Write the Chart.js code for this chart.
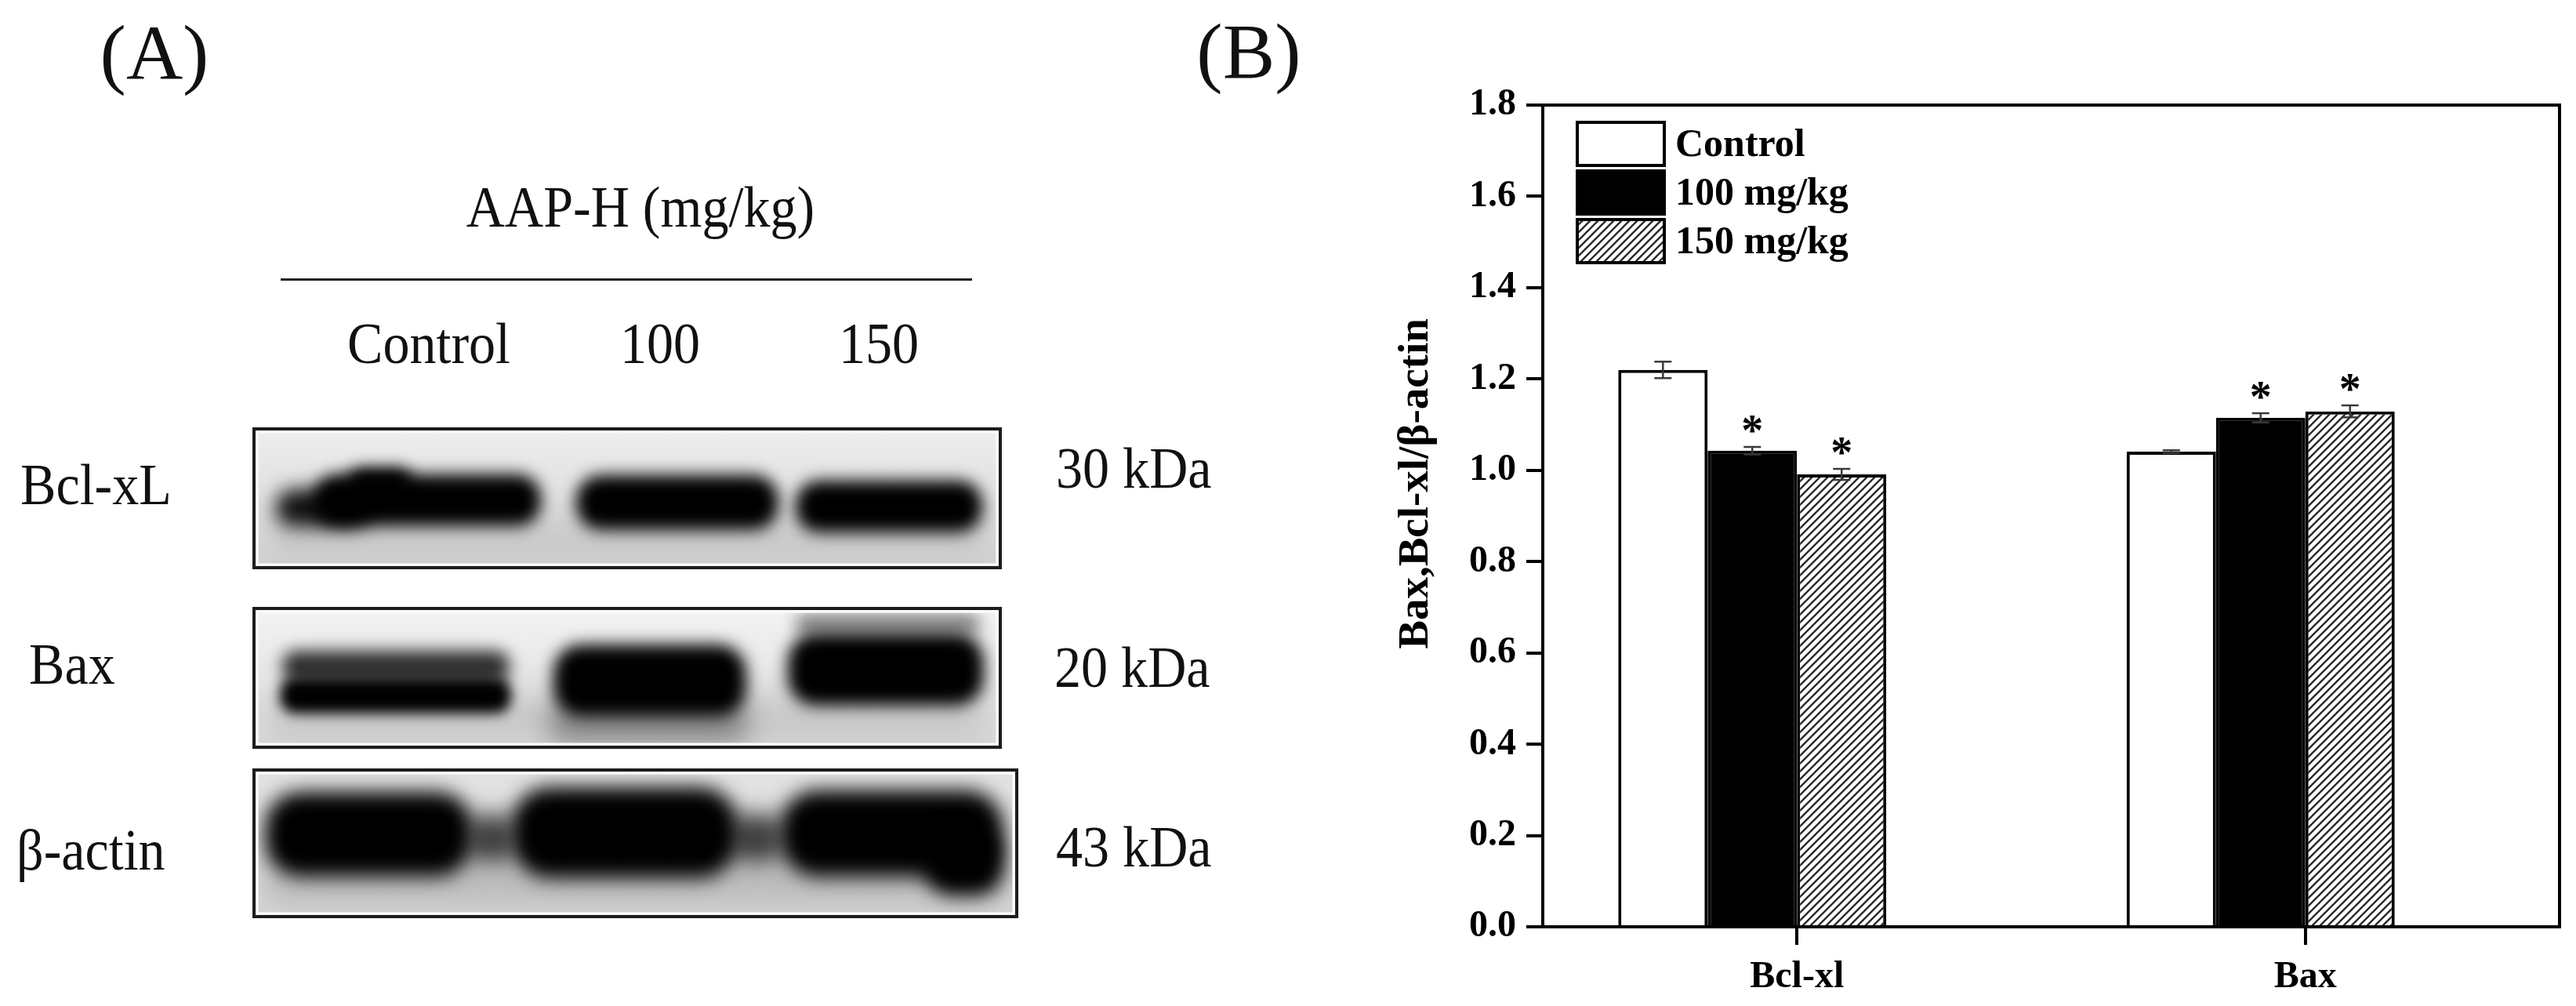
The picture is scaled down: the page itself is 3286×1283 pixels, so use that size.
<!DOCTYPE html>
<html lang="en">
  <head>
    <meta charset="UTF-8" />
    <title>Bax y Bcl-xL</title>
    <style>
      html, body { margin: 0; padding: 0; background: #fff; }
      body { width: 3286px; height: 1283px; position: relative; overflow: hidden; font-family: 'Liberation Serif', 'Times New Roman', serif; }
      .lbl { position: absolute; font-family: 'Liberation Serif', serif; font-size: 74px; line-height: 1; white-space: nowrap; color: #111; }
      .c { transform: translate(-50%, -50%) scaleX(0.92); }
      .l { transform: translate(0, -50%) scaleX(0.92); transform-origin: left center; }
      .panel { font-size: 100px; }
      .panel.c { transform: translate(-50%, -50%); }
      #blots { position: absolute; left: 0; top: 0; }
      #bar-chart { position: absolute; left: 1600px; top: 0; }
    </style>
  </head>

  <body>
    <script src="https://cdn.jsdelivr.net/npm/chart.js"></script>
    <canvas id="blots" width="1600" height="1283"></canvas>
    <canvas id="bar-chart" width="1686" height="1283"></canvas>

    <div class="lbl panel c" style="left:197px;top:68px">(A)</div>
    <div class="lbl panel c" style="left:1593px;top:66px">(B)</div>
    <div class="lbl c" style="left:817px;top:264px">AAP-H (mg/kg)</div>
    <div style="position:absolute;left:358px;top:355px;width:882px;height:3px;background:#222"></div>
    <div class="lbl c" style="left:547px;top:438px">Control</div>
    <div class="lbl c" style="left:842px;top:438px">100</div>
    <div class="lbl c" style="left:1121px;top:438px">150</div>
    <div class="lbl l" style="left:26px;top:618px">Bcl-xL</div>
    <div class="lbl l" style="left:37px;top:847px">Bax</div>
    <div class="lbl l" style="left:21px;top:1084px">β-actin</div>
    <div class="lbl l" style="left:1347px;top:597px">30 kDa</div>
    <div class="lbl l" style="left:1345px;top:851px">20 kDa</div>
    <div class="lbl l" style="left:1347px;top:1080px">43 kDa</div>

    <script>
      // datos del panel B
      const categories = ['Bcl-xl', 'Bax']
      const groups = ['Control', '100 mg/kg', '150 mg/kg']
      const controlMeans = [1.22, 1.041]
      const mg100Means = [1.043, 1.115]
      const mg150Means = [0.991, 1.129]
      const controlErr = [0.018, 0.003]
      const mg100Err = [0.008, 0.01]
      const mg150Err = [0.012, 0.013]
      const controlStar = [false, false]
      const mg100Star = [true, true]
      const mg150Star = [true, true]
      const yTicks = [0, 0.2, 0.4, 0.6, 0.8, 1.0, 1.2, 1.4, 1.6, 1.8]
      const yTitle = 'Bax,Bcl-xl/β-actin'

      const errs = [controlErr, mg100Err, mg150Err]
      const stars = [controlStar, mg100Star, mg150Star]
      const serif = "'Liberation Serif', 'Times New Roman', serif"

      // ---- panel A: membranas (imagen, solo decoracion) ----
      const g = document.getElementById('blots').getContext('2d')

      const membrane = (x, y, w, h, top, bottom, bands) => {
        const grad = g.createLinearGradient(0, y, 0, y + h)
        grad.addColorStop(0, top)
        grad.addColorStop(1, bottom)
        g.fillStyle = grad
        g.fillRect(x, y, w, h)
        g.save()
        g.beginPath()
        g.rect(x + 5, y + 5, w - 10, h - 10)
        g.clip()
        bands.forEach((b) => {
          g.save()
          g.filter = 'blur(' + b[5] + 'px)'
          g.fillStyle = b[6]
          g.beginPath()
          g.roundRect(b[0], b[1], b[2], b[3], b[4])
          g.fill()
          g.restore()
        })
        g.restore()
        g.strokeStyle = '#fff'
        g.lineWidth = 3
        g.strokeRect(x + 4, y + 4, w - 8, h - 8)
        g.strokeStyle = '#1c1c1c'
        g.lineWidth = 4
        g.strokeRect(x, y, w, h)
      }

      membrane(324, 547, 952, 177, '#eeeeee', '#d2d2d2', [
        [340, 662, 920, 45, 20, 20, 'rgba(0,0,0,0.08)'],
        [352, 624, 120, 48, 22, 12, '#111'],
        [445, 597, 80, 34, 16, 10, '#000'],
        [400, 605, 290, 66, 30, 10, '#000'],
        [735, 606, 258, 70, 32, 10, '#000'],
        [1015, 613, 238, 66, 30, 10, '#000'],
      ])
      membrane(324, 776, 952, 177, '#f3f3f3', '#d8d8d8', [
        [340, 885, 920, 55, 20, 20, 'rgba(0,0,0,0.1)'],
        [360, 830, 290, 40, 18, 10, 'rgba(0,0,0,0.8)'],
        [357, 864, 295, 46, 20, 8, '#000'],
        [700, 898, 255, 50, 20, 16, 'rgba(0,0,0,0.32)'],
        [706, 822, 246, 92, 36, 10, '#000'],
        [1015, 783, 235, 26, 12, 10, 'rgba(0,0,0,0.45)'],
        [1005, 808, 250, 92, 36, 10, '#000'],
      ])
      membrane(324, 982, 973, 187, '#e2e2e2', '#d6d6d6', [
        [335, 1095, 950, 55, 20, 20, 'rgba(0,0,0,0.15)'],
        [596, 1038, 62, 62, 25, 14, 'rgba(0,0,0,0.7)'],
        [932, 1038, 68, 62, 25, 14, 'rgba(0,0,0,0.7)'],
        [338, 1010, 265, 108, 46, 12, '#000'],
        [652, 1004, 290, 116, 50, 12, '#000'],
        [995, 1008, 285, 110, 48, 12, '#000'],
        [1180, 1058, 100, 84, 35, 12, '#000'],
      ])

      // ---- panel B ----
      const hatch = () => {
        const c = document.createElement('canvas')
        c.width = 10
        c.height = 10
        const h = c.getContext('2d')
        h.fillStyle = '#fff'
        h.fillRect(0, 0, 10, 10)
        h.strokeStyle = '#2a2a2a'
        h.lineWidth = 2.4
        h.beginPath()
        h.moveTo(-1, 11); h.lineTo(11, -1)
        h.moveTo(-6, 6); h.lineTo(6, -6)
        h.moveTo(4, 16); h.lineTo(16, 4)
        h.stroke()
        return h.createPattern(c, 'repeat')
      }
      const fills = ['#fff', '#000', hatch()]

      const decor = {
        id: 'decor',
        afterDatasetsDraw(chart) {
          const { ctx, chartArea: a, scales: { y } } = chart
          ctx.save()
          // marco superior y derecho
          ctx.strokeStyle = '#000'
          ctx.lineWidth = 4
          ctx.beginPath()
          ctx.moveTo(a.left - 2, a.top)
          ctx.lineTo(a.right, a.top)
          ctx.lineTo(a.right, a.bottom + 2)
          ctx.stroke()

          // barras de error y asteriscos
          errs.forEach((e, i) => {
            const meta = chart.getDatasetMeta(i)
            meta.data.forEach((bar, j) => {
              const v = chart.data.datasets[i].data[j]
              const top = y.getPixelForValue(v + e[j])
              const bot = y.getPixelForValue(v - e[j])
              ctx.strokeStyle = '#3a3a3a'
              ctx.lineWidth = 2.5
              ctx.beginPath()
              ctx.moveTo(bar.x, top); ctx.lineTo(bar.x, bot)
              ctx.moveTo(bar.x - 11, top); ctx.lineTo(bar.x + 11, top)
              ctx.moveTo(bar.x - 11, bot); ctx.lineTo(bar.x + 11, bot)
              ctx.stroke()
              if (stars[i][j]) {
                ctx.fillStyle = '#000'
                ctx.font = 'bold 56px ' + serif
                ctx.textAlign = 'center'
                ctx.textBaseline = 'alphabetic'
                ctx.fillText('*', bar.x, top - 2)
              }
            })
          })

          // leyenda
          groups.forEach((name, i) => {
            const bx = a.left + 44
            const by = a.top + 22 + i * 62
            ctx.fillStyle = fills[i]
            ctx.fillRect(bx, by, 111, 55)
            ctx.strokeStyle = '#000'
            ctx.lineWidth = 4
            ctx.strokeRect(bx, by, 111, 55)
            ctx.fillStyle = '#000'
            ctx.font = 'bold 50px ' + serif
            ctx.textAlign = 'left'
            ctx.textBaseline = 'middle'
            ctx.fillText(name, bx + 125, by + 30)
          })

          // titulo eje y
          ctx.translate(207, 617)
          ctx.rotate(-Math.PI / 2)
          ctx.font = 'bold 55px ' + serif
          ctx.textAlign = 'center'
          ctx.textBaseline = 'middle'
          ctx.fillText(yTitle, 0, 0)
          ctx.restore()
        },
      }

      const tickFont = { family: serif, size: 48, weight: 'bold' }

      new Chart(document.getElementById('bar-chart'), {
        type: 'bar',
        data: {
          labels: categories,
          datasets: [
            { label: groups[0], data: controlMeans, backgroundColor: fills[0] },
            { label: groups[1], data: mg100Means, backgroundColor: fills[1] },
            { label: groups[2], data: mg150Means, backgroundColor: fills[2] },
            // hueco vacio, las barras quedan corridas como en la figura
            { label: '', data: [null, null] },
          ],
        },
        options: {
          responsive: false,
          devicePixelRatio: 1,
          animation: false,
          layout: { padding: { left: 100, right: 21, top: 134, bottom: 0 } },
          datasets: {
            bar: {
              barPercentage: 1,
              categoryPercentage: 0.703,
              borderColor: '#000',
              borderWidth: 4,
              borderSkipped: 'bottom',
            },
          },
          plugins: { legend: { display: false }, tooltip: { enabled: false } },
          scales: {
            x: {
              grid: { offset: false, drawOnChartArea: false, color: '#000', lineWidth: 4, tickLength: 23 },
              border: { color: '#000', width: 4 },
              ticks: { color: '#000', padding: 13, font: tickFont },
              afterFit: (s) => { s.height = 101 },
            },
            y: {
              min: 0,
              max: 1.8,
              afterBuildTicks: (s) => { s.ticks = yTicks.map((v) => ({ value: v })) },
              grid: { drawOnChartArea: false, color: '#000', lineWidth: 4, tickLength: 21 },
              border: { color: '#000', width: 4 },
              ticks: { color: '#000', padding: 13, font: tickFont, callback: (v) => v.toFixed(1) },
              afterFit: (s) => { s.width = 268 },
            },
          },
        },
        plugins: [decor],
      })
    </script>
  </body>
</html>
